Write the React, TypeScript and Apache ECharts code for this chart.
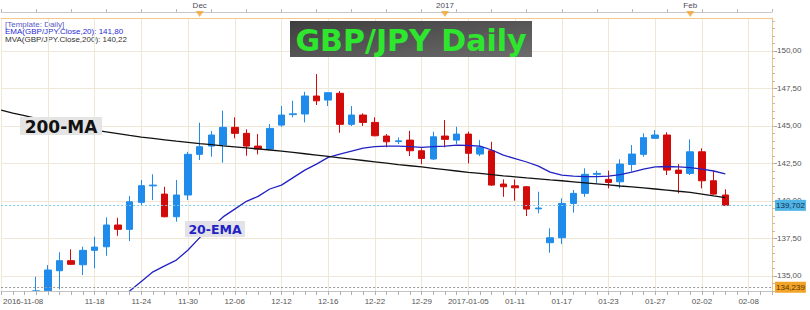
import React, { useEffect, useRef } from "react";
import * as echarts from "echarts";

const dates = [
  "2016-11-08","2016-11-09","2016-11-10","2016-11-11","2016-11-14","2016-11-15","2016-11-16","2016-11-17","2016-11-18","2016-11-21","2016-11-22","2016-11-23","2016-11-24","2016-11-25","2016-11-28","2016-11-29","2016-11-30",
  "2016-12-01","2016-12-02","2016-12-05","2016-12-06","2016-12-07","2016-12-08","2016-12-09","2016-12-12","2016-12-13","2016-12-14","2016-12-15","2016-12-16","2016-12-19","2016-12-20","2016-12-21","2016-12-22","2016-12-23","2016-12-27","2016-12-28","2016-12-29","2016-12-30",
  "2017-01-03","2017-01-04","2017-01-05","2017-01-06","2017-01-09","2017-01-10","2017-01-11","2017-01-12","2017-01-13","2017-01-16","2017-01-17","2017-01-18","2017-01-19","2017-01-20","2017-01-23","2017-01-24","2017-01-25","2017-01-26","2017-01-27","2017-01-30","2017-01-31",
  "2017-02-01","2017-02-02","2017-02-03","2017-02-06","2017-02-07","2017-02-08","2017-02-09","2017-02-10",
];

// [open, close, low, high]
const candles: number[][] = [
  [129.6, 129.9, 129.2, 130.3],
  [129.9, 131.0, 127.9, 131.3],
  [131.0, 133.2, 130.8, 133.5],
  [133.2, 134.0, 132.7, 134.94],
  [134.0, 135.39, 133.7, 135.72],
  [135.34, 136.01, 134.1, 136.57],
  [136.01, 135.77, 135.72, 136.77],
  [135.74, 136.7, 135.05, 136.94],
  [136.7, 136.92, 135.5, 137.61],
  [136.94, 138.39, 136.34, 138.9],
  [138.39, 138.1, 137.67, 138.87],
  [138.1, 139.94, 137.32, 140.32],
  [139.9, 141.01, 139.72, 141.39],
  [141.0, 141.05, 140.05, 141.77],
  [140.45, 138.94, 138.9, 140.94],
  [138.94, 140.39, 138.61, 141.39],
  [140.39, 143.1, 140.05, 143.27],
  [143.1, 143.61, 142.72, 145.21],
  [143.65, 144.39, 142.94, 144.65],
  [143.72, 144.9, 142.54, 146.01],
  [144.9, 144.5, 144.17, 145.57],
  [144.5, 143.65, 143.01, 144.77],
  [143.65, 143.45, 143.1, 144.45],
  [143.45, 144.83, 143.39, 145.12],
  [145.05, 145.72, 144.94, 146.32],
  [145.75, 145.8, 145.57, 146.67],
  [145.79, 146.99, 145.23, 147.27],
  [146.99, 146.67, 146.39, 148.45],
  [146.72, 147.21, 146.32, 147.25],
  [147.17, 145.1, 144.54, 147.32],
  [145.1, 145.72, 144.99, 146.32],
  [145.72, 145.23, 144.99, 145.83],
  [145.23, 144.34, 144.3, 145.57],
  [144.32, 143.94, 143.57, 144.45],
  [143.95, 144.0, 143.79, 144.23],
  [144.05, 143.34, 142.99, 144.67],
  [143.34, 142.83, 142.45, 143.5],
  [142.79, 144.27, 142.72, 144.61],
  [144.32, 144.1, 143.57, 145.39],
  [144.05, 144.45, 143.79, 144.94],
  [144.45, 143.17, 142.5, 144.61],
  [143.12, 143.57, 142.99, 144.05],
  [143.34, 141.05, 141.0, 143.94],
  [141.12, 140.94, 140.27, 141.43],
  [141.0, 140.87, 140.01, 141.43],
  [140.94, 139.45, 138.99, 140.99],
  [139.47, 139.52, 139.17, 140.61],
  [137.21, 137.54, 136.54, 138.17],
  [137.54, 139.83, 137.12, 140.17],
  [139.83, 140.5, 139.21, 140.72],
  [140.5, 141.77, 140.27, 142.17],
  [141.77, 141.83, 141.17, 142.01],
  [141.43, 141.23, 140.83, 142.01],
  [141.27, 142.45, 140.83, 142.77],
  [142.43, 143.12, 141.94, 143.72],
  [143.1, 144.21, 142.94, 144.5],
  [144.17, 144.39, 144.15, 144.72],
  [144.39, 142.05, 141.72, 144.57],
  [142.05, 141.83, 140.5, 142.45],
  [141.83, 143.27, 141.72, 144.1],
  [143.27, 141.34, 140.83, 143.5],
  [141.34, 140.45, 140.4, 141.99],
  [140.39, 139.7, 139.65, 140.77],
];

const ema20 = [
  130.55, 130.6, 130.75, 131.0, 131.3, 131.7, 132.05, 132.4, 132.75, 133.1, 133.55,
  133.99, 134.63, 135.27, 135.67, 136.05, 136.72, 137.55, 138.21, 138.93, 139.45,
  139.97, 140.3, 140.79, 141.05, 141.55, 142.05, 142.45, 142.9, 143.12, 143.32,
  143.52, 143.62, 143.65, 143.65, 143.62, 143.57, 143.62, 143.65, 143.72, 143.69,
  143.65, 143.39, 143.05, 142.82, 142.59, 142.32, 141.92, 141.72, 141.65, 141.61,
  141.62, 141.65, 141.75, 141.92, 142.12, 142.27, 142.29, 142.27, 142.22, 142.12,
  141.99, 141.8,
];

const ma200 = [
  146.05, 145.85, 145.68, 145.5, 145.3, 145.15, 145.02, 144.88, 144.72, 144.6, 144.48,
  144.36, 144.25, 144.16, 144.07, 143.98, 143.9, 143.82, 143.75, 143.67, 143.6,
  143.53, 143.46, 143.39, 143.32, 143.23, 143.14, 143.05, 142.96, 142.87, 142.78,
  142.69, 142.6, 142.51, 142.42, 142.34, 142.26, 142.17, 142.08, 141.99, 141.9,
  141.83, 141.75, 141.67, 141.6, 141.53, 141.47, 141.4, 141.34, 141.27, 141.2,
  141.13, 141.06, 140.99, 140.93, 140.86, 140.79, 140.72, 140.64, 140.57, 140.45,
  140.33, 140.22,
];

const yTicks = [135, 137.5, 140, 142.5, 145, 147.5, 150];
const xTickDates = [
  "2016-11-08","2016-11-18","2016-11-24","2016-11-30","2016-12-06","2016-12-12","2016-12-16","2016-12-22",
  "2016-12-29","2017-01-05","2017-01-11","2017-01-17","2017-01-23","2017-01-27","2017-02-02","2017-02-08",
];
const xTickLabels = [
  "2016-11-08","11-18","11-24","11-30","12-06","12-12","12-16","12-22",
  "12-29","2017-01-05","01-11","01-17","01-23","01-27","02-02","02-08",
];
const monthDates = ["2016-12-01", "2017-01-03", "2017-02-01"];
const monthLabels = ["Dec", "2017", "Feb"];
const lastPrice = 139.702;
const cursorPrice = 134.239;
const yMin = 133.99;
const yMax = 152.19;

const fmt = (v: number, d: number) => v.toFixed(d).replace(".", ",");

export default function App() {
  const ref = useRef<HTMLDivElement>(null);
  useEffect(() => {
    if (!ref.current) return;
    const chart = echarts.init(ref.current, null, { renderer: "svg" });
    const axisFont = "Liberation Sans";
    const minorTicks: number[] = [];
    for (let v = 134; v <= 152; v += 0.5) minorTicks.push(v);
    const gridColor = "#f1e7d6";

    chart.setOption({
      animation: false,
      backgroundColor: "#ffffff",
      grid: { left: -2, top: 18, width: 774, height: 273 },
      xAxis: [
        {
          type: "category",
          data: dates,
          boundaryGap: false,
          position: "bottom",
          axisLine: { show: false },
          axisTick: { show: false },
          axisLabel: { show: false },
          splitLine: {
            show: true,
            interval: (i: number) => i % 4 === 0,
            lineStyle: { color: gridColor, width: 1 },
          },
        },
        {
          type: "category",
          data: dates,
          boundaryGap: false,
          position: "top",
          axisLine: { show: true, lineStyle: { color: "#f3c888" } },
          axisTick: { show: false },
          axisLabel: { show: false },
          splitLine: { show: false },
        },
        {
          type: "category",
          data: dates,
          boundaryGap: false,
          position: "top",
          offset: 6,
          axisLine: { show: true, lineStyle: { color: "#c8c8c8" } },
          axisTick: { show: true, interval: 2, length: 3, lineStyle: { color: "#b8b8b8" } },
          axisLabel: {
            interval: (_i: number, v: string) => monthDates.includes(v),
            formatter: (v: string) => {
              const k = monthDates.indexOf(v);
              return k >= 0 ? monthLabels[k] : "";
            },
            fontSize: 8,
            color: "#4a4a5a",
            fontFamily: axisFont,
            margin: 3,
          },
          splitLine: { show: false },
        },
        {
          type: "category",
          data: dates,
          boundaryGap: false,
          position: "bottom",
          z: 10,
          axisLine: { show: true, lineStyle: { color: "#c4c4c4" } },
          axisTick: { show: true, interval: 0, length: 4, lineStyle: { color: "#b0b0b0" } },
          axisLabel: {
            interval: (_i: number, v: string) => xTickDates.includes(v),
            formatter: (v: string) => {
              const k = xTickDates.indexOf(v);
              if (k === 0) return "{first|" + xTickLabels[k] + "}";
              return k >= 0 ? xTickLabels[k] : "";
            },
            rich: { first: { padding: [0, 0, 0, 44], fontSize: 8, color: "#555", fontFamily: axisFont } },
            fontSize: 8,
            color: "#555",
            fontFamily: axisFont,
            margin: 6,
          },
          splitLine: { show: false },
        },
      ],
      yAxis: [
        {
          type: "value",
          position: "right",
          min: yMin,
          max: yMax,
          axisLine: { show: true, lineStyle: { color: "#f3c27c" } },
          axisTick: { show: true, customValues: yTicks, length: 5, lineStyle: { color: "#a0a0a0" } },
          axisLabel: {
            customValues: yTicks,
            formatter: (v: number) => fmt(v, 2),
            fontSize: 8,
            color: "#555",
            fontFamily: axisFont,
            margin: 5,
          },
          splitLine: { show: true, lineStyle: { color: gridColor, width: 1 } },
        },
        {
          type: "value",
          position: "right",
          min: yMin,
          max: yMax,
          axisLine: { show: false },
          axisTick: { show: true, customValues: minorTicks, length: 3, lineStyle: { color: "#bdbdbd" } },
          axisLabel: { show: false },
          splitLine: { show: false },
        },
      ],
      series: [
        {
          type: "candlestick",
          data: candles,
          xAxisIndex: 0,
          yAxisIndex: 0,
          barWidth: 7,
          clip: true,
          itemStyle: {
            color: "#1f8cec",
            color0: "#d20a0a",
            borderColor: "#1f8cec",
            borderColor0: "#d20a0a",
            borderWidth: 1,
          },
          markLine: {
            silent: true,
            symbol: ["none", "none"],
            animation: false,
            data: [
              {
                yAxis: lastPrice,
                lineStyle: { color: "#7cc6ec", type: [2, 2], width: 1 },
                label: {
                  show: true,
                  position: "end",
                  distance: 3,
                  formatter: () => fmt(lastPrice, 3),
                  backgroundColor: "#4fb4e6",
                  color: "#10304f",
                  padding: [2, 1, 1, 1],
                  fontSize: 8,
                  fontFamily: axisFont,
                },
              },
              {
                yAxis: cursorPrice,
                lineStyle: { color: "#9a9a9a", type: [2, 2], width: 1 },
                label: {
                  show: true,
                  position: "end",
                  distance: 3,
                  formatter: () => fmt(cursorPrice, 3),
                  backgroundColor: "#f2a428",
                  color: "#5a3200",
                  padding: [2, 1, 1, 1],
                  fontSize: 8,
                  fontFamily: axisFont,
                },
              },
            ],
          },
        },
        {
          type: "line",
          data: ema20,
          xAxisIndex: 0,
          yAxisIndex: 0,
          symbol: "none",
          lineStyle: { color: "#2222c4", width: 1.3 },
          z: 3,
        },
        {
          type: "line",
          data: ma200,
          xAxisIndex: 0,
          yAxisIndex: 0,
          symbol: "none",
          lineStyle: { color: "#111111", width: 1.3 },
          z: 3,
        },
        {
          type: "scatter",
          data: monthDates.map((d) => [dates.indexOf(d), yMax + 0.27]),
          xAxisIndex: 0,
          yAxisIndex: 0,
          clip: false,
          symbol: "triangle",
          symbolRotate: 180,
          symbolSize: [8, 6],
          itemStyle: { color: "#f2a22c" },
          silent: true,
          z: 5,
        },
      ],
      graphic: [
        {
          type: "rect",
          shape: { x: -4, y: 291.5, width: 777, height: 20 },
          style: { fill: "#ffffff" },
          z: 6,
          silent: true,
        },
        {
          type: "text",
          left: 5,
          top: 20,
          style: {
            text: "[Template: Daily]",
            fill: "#5a5abf",
            fontSize: 8,
            fontFamily: axisFont,
          },
        },
        {
          type: "text",
          left: 5,
          top: 27.5,
          style: {
            text: "EMA(GBP/JPY.Close,20): " + fmt(ema20[ema20.length - 1], 2),
            fill: "#2a2ad8",
            fontSize: 8,
            fontFamily: axisFont,
          },
        },
        {
          type: "text",
          left: 5,
          top: 35,
          style: {
            text: "MVA(GBP/JPY.Close,200): " + fmt(ma200[ma200.length - 1], 2),
            fill: "#333333",
            fontSize: 8,
            fontFamily: axisFont,
          },
        },
        {
          type: "rect",
          shape: { x: 290, y: 21, width: 242, height: 36 },
          style: {
            fill: new echarts.graphic.LinearGradient(0, 0, 1, 1, [
              { offset: 0, color: "#3e3e3e" },
              { offset: 1, color: "#6c6c6c" },
            ]),
          },
          z: 10,
        },
        {
          type: "text",
          x: 411,
          y: 40,
          style: {
            text: "GBP/JPY Daily",
            fill: "#2ee62e",
            fontSize: 30,
            fontWeight: "bold",
            fontFamily: "DejaVu Sans",
            align: "center",
            verticalAlign: "middle",
          },
          z: 11,
        },
        {
          type: "rect",
          shape: { x: 20, y: 117, width: 82, height: 18 },
          style: { fill: "#e4e4e4" },
          z: 10,
        },
        {
          type: "text",
          x: 61,
          y: 126.5,
          style: {
            text: "200-MA",
            fill: "#111111",
            fontSize: 17,
            fontWeight: "bold",
            fontFamily: "DejaVu Sans",
            align: "center",
            verticalAlign: "middle",
          },
          z: 11,
        },
        {
          type: "rect",
          shape: { x: 185, y: 221, width: 60, height: 16 },
          style: { fill: "#e2e2e8" },
          z: 10,
        },
        {
          type: "text",
          x: 215,
          y: 229.5,
          style: {
            text: "20-EMA",
            fill: "#2222c4",
            fontSize: 12.5,
            fontWeight: "bold",
            fontFamily: "DejaVu Sans",
            align: "center",
            verticalAlign: "middle",
          },
          z: 11,
        },
      ],
    });
    return () => chart.dispose();
  }, []);
  return (
    <div
      ref={ref}
      style={{ position: "fixed", left: 0, top: 0, width: 810, height: 310, background: "#fff" }}
    />
  );
}
